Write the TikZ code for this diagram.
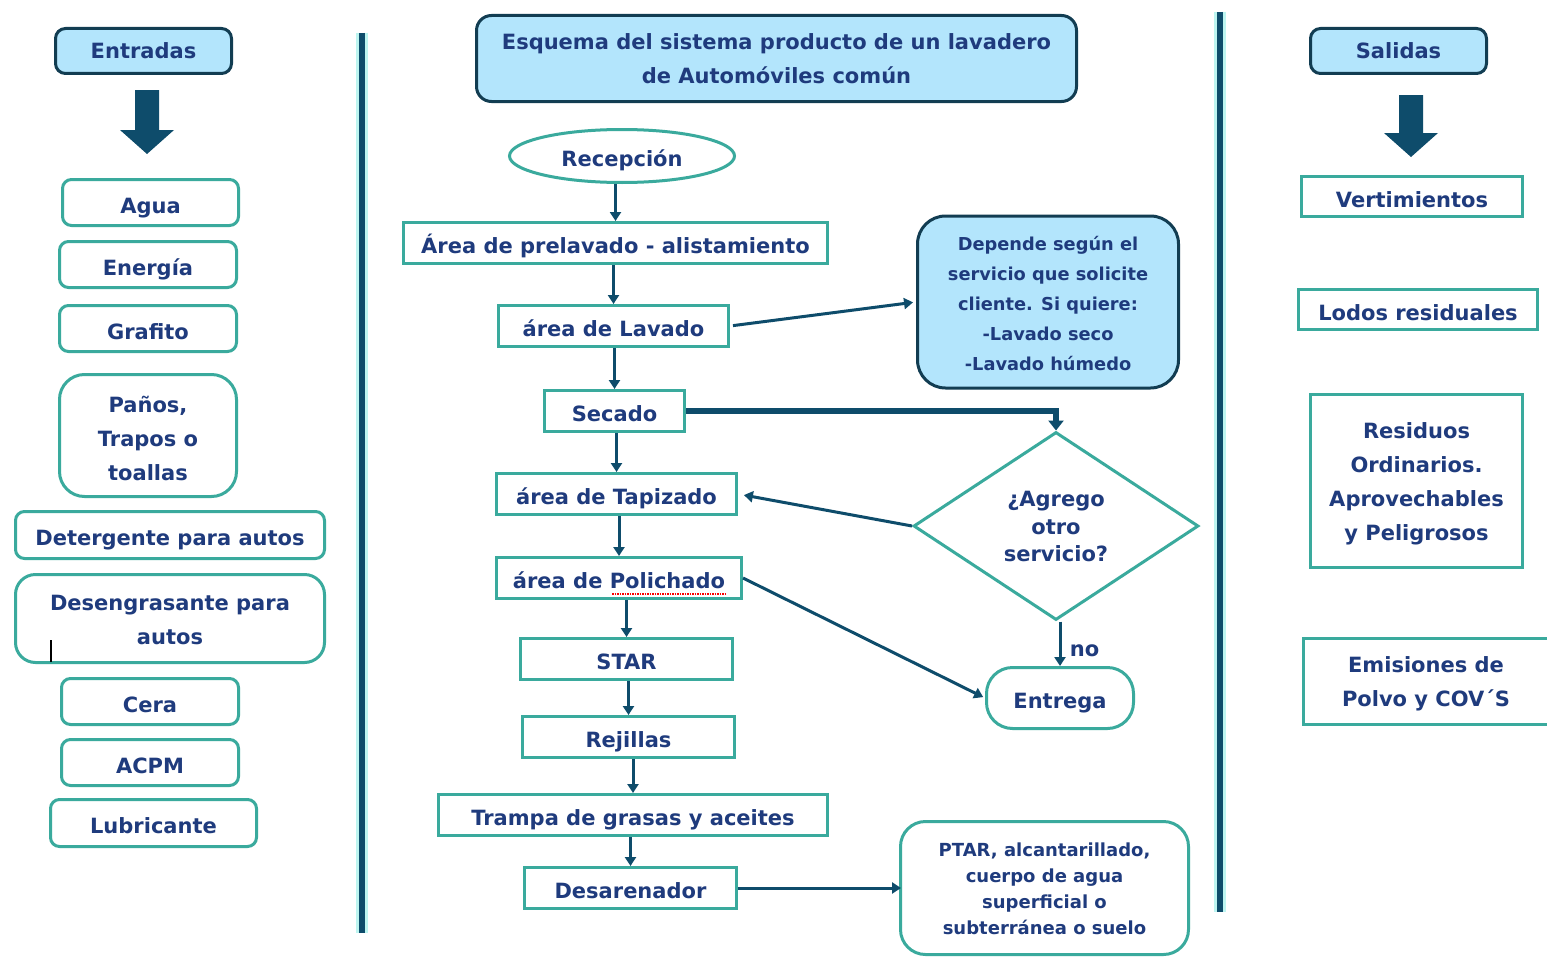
\documentclass[tikz,border=0pt]{standalone}
\usepackage{fontspec}
\setmainfont{DejaVu Sans}
\usetikzlibrary{arrows.meta,shapes.geometric,calc}
\definecolor{navy}{HTML}{1F3B7D}
\definecolor{tealb}{HTML}{3AAA9D}
\definecolor{lblue}{HTML}{B3E5FC}
\definecolor{darkb}{HTML}{123D52}
\definecolor{arr}{HTML}{0E4C6B}
\definecolor{glow}{HTML}{BDF5F0}
\newcommand\mfont{\fontsize{21}{34}\selectfont\bfseries}
\newcommand\sfont{\fontsize{17.8}{30}\selectfont\bfseries}
\newcommand\pfont{\fontsize{18}{26}\selectfont\bfseries}
% shift a multi-line text down by #1 without changing its box size
\newcommand\dropt[2]{\raisebox{-#1}[\height][\depth]{\begin{tabular}{@{}c@{}}#2\end{tabular}}}
\tikzset{
 base/.style={draw=tealb, line width=3pt, text=navy, font=\mfont, align=center, inner sep=0pt},
 one/.style={text height=21pt, text depth=0pt},
 rbox/.style={base, rounded corners=9pt},
 sbox/.style={base, sharp corners},
 hbox/.style={base, draw=darkb, fill=lblue, rounded corners=10pt},
 sz/.style 2 args={minimum width=#1pt, minimum height=#2pt},
 flow/.style={draw=arr, line width=3pt, -{Triangle[length=9pt,width=11pt]}},
 bigflow/.style={draw=arr, line width=5.5pt, -{Triangle[length=10pt,width=15pt]}},
 divider/.style={line width=6pt, draw=arr},
 dglow/.style={line width=12pt, draw=glow},
 blockarrow/.style={fill=arr},
}
\begin{document}
\begin{tikzpicture}[x=1pt,y=-1pt]
\useasboundingbox[fill=white] (0,0) rectangle (1547,958);

% dividers
\draw[dglow] (362,33) -- (362,933);
\draw[divider] (362,33) -- (362,933);
\draw[dglow] (1220,12) -- (1220,912);
\draw[divider] (1220,12) -- (1220,912);

% ---------- Entradas ----------
\node[hbox, text depth=0pt, sz={176}{45}] (ent) at (143.5,51) {Entradas};
\fill[blockarrow] (135,90) -- (159,90) -- (159,130) -- (174,130) -- (147,154) -- (120,130) -- (135,130) -- cycle;
\node[rbox, one, sz={176}{46}] (agua) at (150.5,202.5) {Agua};
\node[rbox, one, sz={177}{46}] (ener) at (148,264.5) {Energía};
\node[rbox, one, sz={177}{46}] (graf) at (148,328.5) {Grafito};
\node[rbox, rounded corners=25pt, sz={177}{122}] (panos) at (148,435.5) {\dropt{4pt}{Paños,\\Trapos o\\toallas}};
\node[rbox, one, sz={309}{47}] (det) at (170,535) {Detergente para autos};
\node[rbox, rounded corners=20pt, sz={309}{88}] (desg) at (170,618.5) {\dropt{2pt}{Desengrasante para\\autos}};
\draw[black, line width=1.3pt] (51,640) -- (51,662);
\node[rbox, one, sz={177}{46}] (cera) at (150,701.5) {Cera};
\node[rbox, one, sz={177}{46}] (acpm) at (150,762.5) {ACPM};
\node[rbox, one, sz={206}{47}] (lub) at (153.5,823) {Lubricante};

% ---------- Centro ----------
\node[hbox, rounded corners=15pt, sz={600}{86}] (title) at (776.5,58.5) {\dropt{1pt}{Esquema del sistema producto de un lavadero\\de Automóviles común}};
\node[base, one, ellipse, sz={225}{53}] (rec) at (622,156) {Recepción};
\node[sbox, one, sz={424}{41}] (pre) at (615.5,243) {Área de prelavado - alistamiento};
\node[sbox, one, sz={230}{41}] (lav) at (613.5,326) {área de Lavado};
\node[sbox, one, sz={140}{41}] (sec) at (614.5,411) {Secado};
\node[sbox, one, sz={240}{41}] (tap) at (616.5,494) {área de Tapizado};
\node[sbox, one, sz={245}{41}] (pol) at (619,578) {área de Polichado};
\draw[red, densely dotted, line width=1.5pt] (612,594) -- (727,594);
\node[sbox, one, sz={212}{41}] (star) at (626.5,659) {STAR};
\node[sbox, one, sz={212}{41}] (rej) at (628.5,737) {Rejillas};
\node[sbox, one, sz={389}{41}] (trap) at (633,815) {Trampa de grasas y aceites};
\node[sbox, one, sz={212}{41}] (desa) at (630.5,888) {Desarenador};

\node[hbox, rounded corners=28pt, font=\sfont, sz={261}{172}] (dep) at (1048,302) {\dropt{2pt}{Depende según el\\servicio que solicite\\cliente. Si quiere:\\-Lavado seco\\-Lavado húmedo}};
\node[base, diamond, font=\fontsize{21}{27.5}\selectfont\bfseries, sz={285}{188}] (dia) at (1056,526) {\dropt{2.5pt}{¿Agrego\\otro\\servicio?}};
\node[base, one, rounded corners=26pt, sz={147}{61}] (entr) at (1060,698) {Entrega};
\node[base, rounded corners=25pt, font=\pfont, sz={288}{133}] (ptar) at (1044.5,888) {\dropt{2pt}{PTAR, alcantarillado,\\cuerpo de agua\\superficial o\\subterránea o suelo}};

% connectors
\draw[flow] (pre.north |- rec.south) -- (pre.north);
\draw[flow] (lav.north |- pre.south) -- (lav.north);
\draw[flow] (sec.north |- lav.south) -- (sec.north);
\draw[flow] (tap.north |- sec.south) -- (tap.north);
\draw[flow] (pol.north |- tap.south) -- (pol.north);
\draw[flow] (star.north |- pol.south) -- (star.north);
\draw[flow] (rej.north |- star.south) -- (rej.north);
\draw[flow] (trap.north |- rej.south) -- (trap.north);
\draw[flow] (desa.north |- trap.south) -- (desa.north);
\draw[flow, shorten <=3pt, shorten >=3pt] (lav.east) -- (dep.west);
\draw[bigflow] (sec.east) -| (dia.north);
\draw[flow, shorten >=6pt] (dia.west) -- (tap.east);
\draw[flow, shorten >=2pt] (pol.east) -- (entr.west);
\draw[flow] (entr.north |- dia.south) -- node[pos=0.65, right=5pt, text=navy, font=\mfont, text depth=0pt] (nolab) {no} (entr.north);
\draw[flow, shorten >=-2pt] (desa.east) -- (ptar.west);

% ---------- Salidas ----------
\node[hbox, text depth=0pt, sz={176}{45}] (sal) at (1398.5,51) {Salidas};
\fill[blockarrow] (1399,95) -- (1423,95) -- (1423,133) -- (1438,133) -- (1411,157) -- (1384,133) -- (1399,133) -- cycle;
\node[sbox, one, sz={221}{40}] (vert) at (1412,196.5) {Vertimientos};
\node[sbox, one, sz={239}{40}] (lodos) at (1418,309.5) {Lodos residuales};
\node[sbox, sz={212}{173}] (resid) at (1416.5,481) {\dropt{2pt}{Residuos\\Ordinarios.\\Aprovechables\\y Peligrosos}};
\node[sbox, sz={245}{86}] (emis) at (1426,681.5) {\dropt{1pt}{Emisiones de\\Polvo y COV´S}};
\end{tikzpicture}
\end{document}
